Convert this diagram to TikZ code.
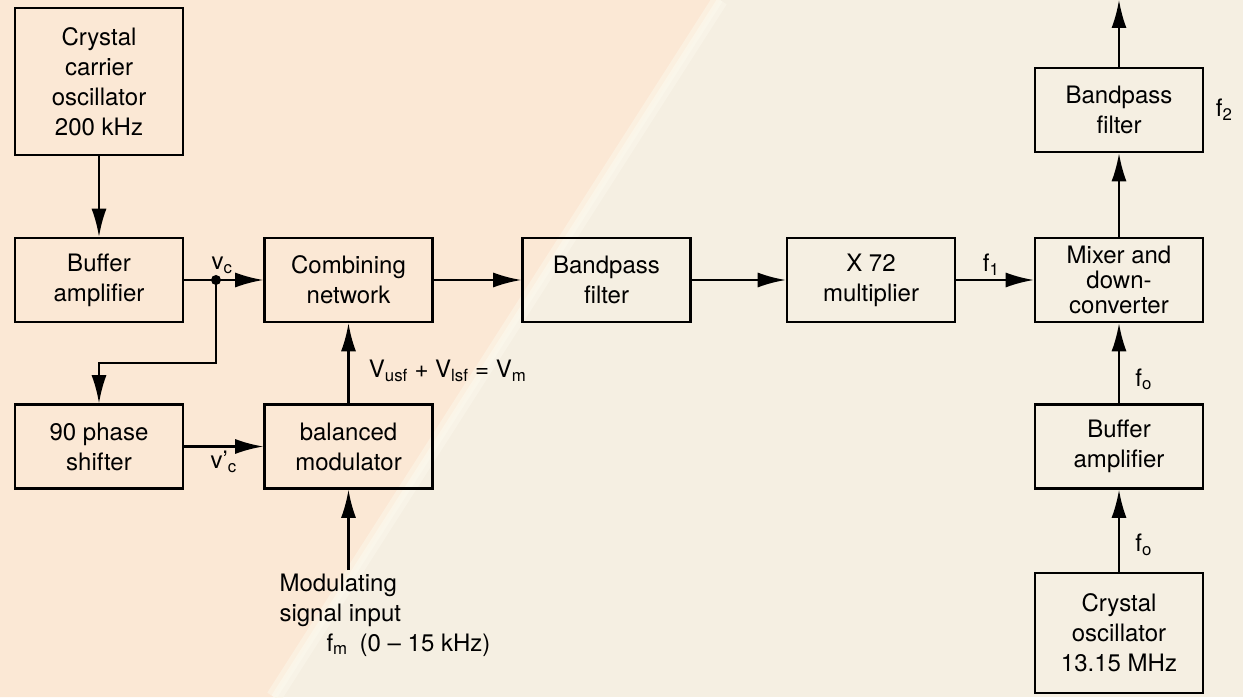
\documentclass[tikz,border=0pt]{standalone}
\usepackage{fontspec}
\setmainfont{TeX Gyre Heros}
\usetikzlibrary{arrows.meta,positioning,calc}
\definecolor{peach}{RGB}{251,232,213}
\definecolor{cream}{RGB}{245,239,226}
\definecolor{streak}{RGB}{251,248,236}
\begin{document}
\begin{tikzpicture}[x=1pt,y=1pt,
  block/.style={draw, line width=2.6pt, minimum width=168pt, minimum height=84pt,
    align=center, font=\fontsize{24}{30}\selectfont},
  lbl/.style={font=\fontsize{24}{30}\selectfont},
  sig/.style={line width=2.2pt, -{Latex[length=28pt,width=15pt]}}]
\useasboundingbox (0,0) rectangle (1243,697);
% background
\begin{scope}
\clip (0,0) rectangle (1243,697);
\fill[cream] (0,0) rectangle (1243,697);
\fill[peach] (0,0) -- (274,0) -- (720,697) -- (0,697) -- cycle;
\draw[streak, line width=16pt, opacity=0.5] (274,0) -- (720,697);
\draw[streak, line width=6pt, opacity=0.7] (274,0) -- (720,697);
\end{scope}
% carrier side
\node[block, minimum height=147pt] (carrier) at (99,615.5) {Crystal\\carrier\\oscillator\\200 kHz};
\node[block] (bufA) at (99,417) {Buffer\\amplifier};
\node[block] (phase) at (99,250.5) {90 phase\\shifter};
\node[block] (comb) at (348.5,417) {Combining\\network};
\node[block] (bal) at (348.5,250.5) {balanced\\modulator};
% main chain
\node[block] (bpfA) at (606.5,417) {Bandpass\\filter};
\node[block] (mult) at (871,417) {X 72\\multiplier};
\node[block, font=\fontsize{24}{25}\selectfont] (mixer) at (1119,417) {Mixer and\\down-\\converter};
\node[block] (bpfB) at (1119,587) {Bandpass\\filter};
\node[block] (bufB) at (1119,250.5) {Buffer\\amplifier};
\node[block, minimum height=120pt] (xtal) at (1119,64) {Crystal\\oscillator\\13.15 MHz};
\node[lbl, align=left, anchor=north west] (modin) at (276,127)
  {Modulating\\signal input\\\hspace*{47pt}f\textsubscript{m}\enspace(0 -- 15 kHz)};
\coordinate (split) at (216,417);
\coordinate (bend) at (216,334);
\coordinate (out) at (1119,697);
% connections
\draw[sig] (carrier) -- (bufA);
\draw[line width=2.2pt] (bufA) -- (split);
\draw[sig] (split) -- (comb);
\fill (split) circle (5pt);
\node[lbl, anchor=south] (vc) at (222,420) {v\textsubscript{c}};
\draw[sig] (split) -- (bend) -| (phase);
\draw[sig] (phase) -- (bal) node[lbl, midway, below] (vcq) {v'\textsubscript{c}};
\draw[sig] (bal) -- (comb)
  node[lbl, pos=0.4, right=16pt] (vm) {V\textsubscript{usf} + V\textsubscript{lsf} = V\textsubscript{m}};
\draw[sig] (bal.south |- modin.north) -- (bal);
\draw[sig] (comb) -- (bpfA);
\draw[sig] (bpfA) -- (mult);
\draw[sig] (mult) -- (mixer) node[lbl, pos=0.45, above] (fone) {f\textsubscript{1}};
\draw[sig] (mixer) -- (bpfB);
\draw[sig] (bpfB) -- (out);
\node[lbl, right=8pt of bpfB] (ftwo) {f\textsubscript{2}};
\draw[sig] (bufB) -- (mixer) node[lbl, pos=0.3, right=12pt] (foA) {f\textsubscript{o}};
\draw[sig] (xtal) -- (bufB) node[lbl, pos=0.33, right=12pt] (foB) {f\textsubscript{o}};
\end{tikzpicture}
\end{document}
